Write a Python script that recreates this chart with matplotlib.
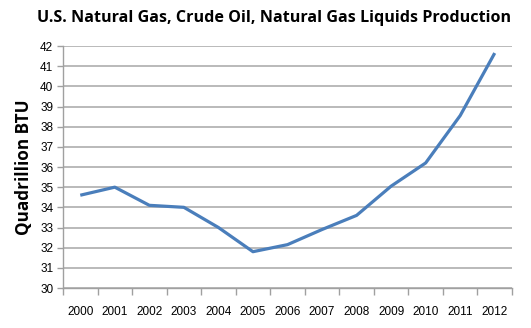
import matplotlib.pyplot as plt
from matplotlib.ticker import FixedLocator, NullFormatter

years = ['2000', '2001', '2002', '2003', '2004', '2005', '2006',
         '2007', '2008', '2009', '2010', '2011', '2012']
production = [34.6, 35.0, 34.1, 34.0, 33.0, 31.8, 32.15,
              32.9, 33.6, 35.05, 36.2, 38.55, 41.65]

fig = plt.figure(figsize=(5.31, 3.28), dpi=100)
ax = fig.add_axes([63 / 531, 40 / 328, 449 / 531, 242 / 328])

x = list(range(len(years)))
ax.plot(x, production, color='#4a7ebb', linewidth=2.3, solid_capstyle='butt')

ax.set_xlim(-0.5, len(years) - 0.5)
ax.set_ylim(30, 42)
ax.set_yticks(range(30, 43))
ax.set_xticks(x)
ax.set_xticklabels(years)
ax.xaxis.set_minor_locator(FixedLocator([i - 0.5 for i in range(len(years) + 1)]))
ax.xaxis.set_minor_formatter(NullFormatter())

for lbl in ax.get_xticklabels() + ax.get_yticklabels():
    lbl.set_fontfamily('Liberation Sans')
    lbl.set_fontsize(8.5)

ax.tick_params(axis='x', which='major', length=0, pad=13)
ax.tick_params(axis='x', which='minor', length=5, color='#a0a0a0', width=1)
ax.tick_params(axis='y', length=4, color='#a0a0a0', width=1, pad=3)

ax.grid(axis='y', color='#b4b4b4', linewidth=1.3)
ax.set_axisbelow(True)
for side in ['top', 'right']:
    ax.spines[side].set_visible(False)
for side in ['left', 'bottom']:
    ax.spines[side].set_color('#a0a0a0')
    ax.spines[side].set_linewidth(1)

ax.set_ylabel('Quadrillion BTU', fontfamily='Open Sans', fontweight='bold',
              fontsize=12.3, labelpad=5)
fig.text(0.517, 0.945, 'U.S. Natural Gas, Crude Oil, Natural Gas Liquids Production',
         ha='center', va='center', fontfamily='Open Sans', fontweight='bold',
         fontsize=11.6)

fig.savefig('out.png', dpi=100)
